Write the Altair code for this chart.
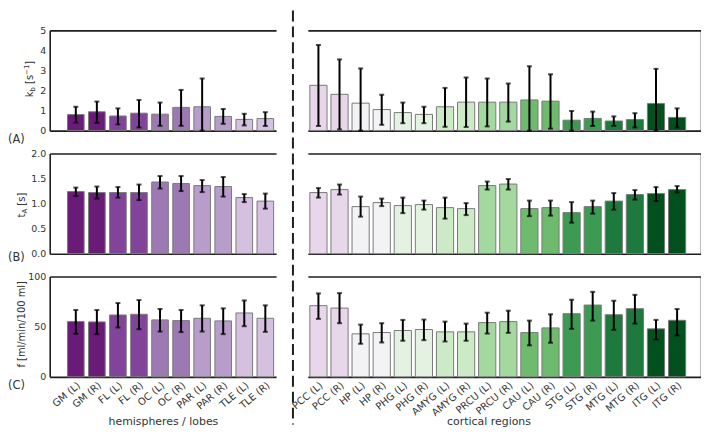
import altair as alt
import pandas as pd

# ---------------- data ----------------
left_regions = ["GM (L)", "GM (R)", "FL (L)", "FL (R)", "OC (L)", "OC (R)",
                "PAR (L)", "PAR (R)", "TLE (L)", "TLE (R)"]
right_regions = ["PCC (L)", "PCC (R)", "HP (L)", "HP (R)", "PHG (L)", "PHG (R)",
                 "AMYG (L)", "AMYG (R)", "PRCU (L)", "PRCU (R)", "CAU (L)", "CAU (R)",
                 "STG (L)", "STG (R)", "MTG (L)", "MTG (R)", "ITG (L)", "ITG (R)"]

left_colors = ["#6a1b78", "#6a1b78", "#81449a", "#81449a", "#9d79b4", "#9d79b4",
               "#b89cca", "#b89cca", "#d5c0e0", "#d5c0e0"]
right_colors = ["#e8d6ea", "#e8d6ea", "#f3f2f4", "#f3f2f4", "#e4f2e1", "#e4f2e1",
                "#cdeac6", "#cdeac6", "#a3d89e", "#a3d89e", "#6fbb6e", "#6fbb6e",
                "#3d9a52", "#3d9a52", "#1d7a3c", "#1d7a3c", "#03501f", "#03501f"]

# (A) k_b [s^-1]
kb_left = [0.80, 0.94, 0.73, 0.87, 0.82, 1.16, 1.19, 0.71, 0.56, 0.60]
kb_left_lo = [0.40, 0.39, 0.31, 0.16, 0.24, 0.24, 0.00, 0.34, 0.26, 0.23]
kb_left_hi = [1.19, 1.45, 1.11, 1.53, 1.40, 2.03, 2.60, 1.08, 0.84, 0.92]
kb_right = [2.26, 1.81, 1.37, 1.05, 0.90, 0.81, 1.19, 1.42, 1.42, 1.42, 1.53, 1.47,
            0.52, 0.61, 0.48, 0.55, 1.35, 0.66]
kb_right_lo = [0.23, 0.06, 0.00, 0.29, 0.37, 0.37, 0.19, 0.18, 0.21, 0.45, 0.00, 0.10,
               0.00, 0.23, 0.24, 0.16, 0.00, 0.16]
kb_right_hi = [4.27, 3.55, 3.10, 1.79, 1.40, 1.19, 2.13, 2.65, 2.60, 2.35, 3.21, 2.81,
               0.98, 0.95, 0.71, 0.87, 3.08, 1.11]

# (B) t_A [s]
ta_left = [1.24, 1.22, 1.22, 1.22, 1.43, 1.40, 1.36, 1.34, 1.12, 1.05]
ta_left_lo = [1.15, 1.10, 1.12, 1.07, 1.30, 1.25, 1.23, 1.14, 1.03, 0.90]
ta_left_hi = [1.32, 1.34, 1.33, 1.38, 1.55, 1.55, 1.47, 1.53, 1.19, 1.20]
ta_right = [1.22, 1.28, 0.94, 1.02, 0.96, 0.98, 0.92, 0.90, 1.36, 1.39, 0.90, 0.92,
            0.82, 0.94, 1.05, 1.18, 1.20, 1.28]
ta_right_lo = [1.12, 1.18, 0.74, 0.95, 0.81, 0.88, 0.70, 0.77, 1.28, 1.28, 0.75, 0.76,
               0.62, 0.80, 0.88, 1.08, 1.05, 1.22]
ta_right_hi = [1.31, 1.38, 1.14, 1.10, 1.12, 1.06, 1.12, 1.01, 1.44, 1.49, 1.06, 1.06,
               1.03, 1.06, 1.21, 1.27, 1.33, 1.35]

# (C) f [ml/min/100 ml]
f_left = [55.1, 54.8, 61.7, 62.4, 56.8, 56.1, 58.4, 55.8, 63.7, 58.4]
f_left_lo = [42.9, 42.6, 49.2, 47.5, 45.2, 44.6, 45.2, 42.6, 50.5, 44.9]
f_left_hi = [66.7, 66.7, 73.6, 76.6, 67.7, 66.7, 71.3, 68.3, 76.2, 71.3]
f_right = [71.0, 68.6, 42.9, 44.2, 46.2, 47.2, 44.9, 44.9, 54.1, 55.1, 44.2, 48.8,
           63.0, 71.6, 62.0, 68.0, 47.9, 56.4]
f_right_lo = [57.8, 53.5, 33.0, 34.3, 36.0, 36.6, 35.3, 36.0, 43.2, 43.9, 31.4, 34.0,
              47.9, 56.1, 46.9, 53.1, 37.3, 41.3]
f_right_hi = [83.2, 83.5, 52.1, 53.5, 56.8, 57.1, 55.1, 53.1, 64.0, 66.0, 56.1, 62.4,
              76.9, 84.8, 75.9, 81.8, 56.8, 67.7]

left_xtitle = "hemispheres / lobes"
right_xtitle = "cortical regions"
panel_letters = ["(A)", "(B)", "(C)"]

# ---------------- style ----------------
FONT = "DejaVu Sans"
TXT = "#333333"
LINE = "#1e1e1e"
EDGE = "#7a7a7a"
LW = 1.6
LEFT_W, RIGHT_W, PANEL_H = 228, 396, 101

CHAR_W = {'k': 0.579, 'b': 0.635, ' ': 0.318, '[': 0.390, 's': 0.521, '\u2212': 0.838,
          '1': 0.636, ']': 0.390, 't': 0.392, 'A': 0.684, 'f': 0.352, 'm': 0.974,
          'l': 0.278, '/': 0.337, 'i': 0.278, 'n': 0.634, '0': 0.636}


def tw(s, size):
    return sum(CHAR_W.get(c, 0.6) for c in s) * size


def rotated_title(pieces, x_base, y_center):
    """Rotated (reading upward) title built from pieces with sub/superscripts."""
    total = sum(tw(t, fs) for t, fs, _ in pieces)
    y = y_center + total / 2
    layers = []
    for t, fs, shift in pieces:
        stripped = t.lstrip(" ")
        y -= tw(t[: len(t) - len(stripped)], fs)  # leading spaces advance manually
        layers.append(
            alt.Chart(pd.DataFrame({"t": [stripped]})).mark_text(
                angle=270, align="left", baseline="alphabetic", fontSize=fs,
                dy=shift, font=FONT, color=TXT
            ).encode(text="t:N", x=alt.value(x_base), y=alt.value(y))
        )
        y -= tw(stripped, fs)
    return layers


ylabels = [
    dict(pieces=[("k", 10, 0), ("b", 7, 2.5), (" [s", 10, 0), ("\u22121", 7, -4), ("]", 10, 0)],
         x=-17, y=49),
    dict(pieces=[("t", 10, 0), ("A", 7, 2.5), (" [s]", 10, 0)], x=-25, y=52),
    dict(pieces=[("f [ml/min/100 ml]", 10, 0)], x=-25, y=48),
]
letter_y = [110, 105, 110]
ydomains = [[0, 5], [0, 2], [0, 100]]
yticks = [[0, 1, 2, 3, 4, 5], [0, 0.5, 1.0, 1.5, 2.0], [0, 50, 100]]
yformats = ["d", ".1f", "d"]


def panel(row, side, regions, colors, vals, lo, hi):
    df = pd.DataFrame({"region": regions, "value": vals, "lo": lo, "hi": hi})
    if side == "left":
        width = LEFT_W
        xscale = alt.Scale(domain=regions, paddingInner=0.21, paddingOuter=0.48, align=0.88)
        yaxis = alt.Axis(orient="left", values=yticks[row], format=yformats[row],
                         ticks=False, labelPadding=4, labelFontSize=9.5, labelFont=FONT,
                         labelColor=TXT, title=None, domain=True, domainColor=LINE,
                         domainWidth=LW, grid=False)
        xtitle = left_xtitle
        title_x = 114
    else:
        width = RIGHT_W
        xscale = alt.Scale(domain=regions, paddingInner=0.185, paddingOuter=0.41, align=0.115)
        yaxis = alt.Axis(orient="right", labels=False, ticks=False, title=None,
                         domain=True, domainColor=LINE, domainWidth=LW, grid=False)
        xtitle = right_xtitle
        title_x = 182
    yscale = alt.Scale(domain=ydomains[row], nice=False, zero=True)

    if row == 2:
        bottom_axis = alt.Axis(orient="bottom", labels=True, labelAngle=-40, labelAlign="right",
                               labelBaseline="top", labelPadding=3, labelFontSize=10,
                               labelFont=FONT, labelColor=TXT, labelFontWeight="normal",
                               ticks=False, domain=True, domainColor=LINE, domainWidth=LW,
                               grid=False, title=xtitle, titleFont=FONT, titleFontSize=11,
                               titleFontWeight="normal", titleColor=TXT, titleX=title_x,
                               titleY=48, titleAlign="center", titleBaseline="alphabetic",
                               titleAngle=0)
    else:
        bottom_axis = alt.Axis(orient="bottom", labels=False, ticks=False, title=None,
                               domain=True, domainColor=LINE, domainWidth=LW, grid=False)
    top_axis = alt.Axis(orient="top", labels=False, ticks=False, title=None,
                        domain=True, domainColor=LINE, domainWidth=LW, grid=False)

    base = alt.Chart(df)
    bars = base.mark_bar(stroke=EDGE, strokeWidth=1, opacity=1).encode(
        x=alt.X("region:N", scale=xscale, axis=bottom_axis, sort=regions),
        y=alt.Y("value:Q", scale=yscale, axis=yaxis),
        color=alt.Color("region:N", scale=alt.Scale(domain=regions, range=colors), legend=None),
    )
    rules = base.mark_rule(color="black", strokeWidth=2).encode(
        x=alt.X("region:N", scale=xscale, axis=top_axis, sort=regions),
        y=alt.Y("lo:Q", scale=yscale, axis=yaxis),
        y2="hi:Q",
    )
    cap_lo = base.mark_tick(color="black", thickness=2, size=5).encode(
        x=alt.X("region:N", scale=xscale, axis=None, sort=regions),
        y=alt.Y("lo:Q", scale=yscale, axis=yaxis),
    )
    cap_hi = base.mark_tick(color="black", thickness=2, size=5).encode(
        x=alt.X("region:N", scale=xscale, axis=None, sort=regions),
        y=alt.Y("hi:Q", scale=yscale, axis=yaxis),
    )
    layers = [bars, rules, cap_lo, cap_hi]

    if side == "left":
        lab = ylabels[row]
        layers += rotated_title(lab["pieces"], lab["x"], lab["y"])
        layers.append(
            alt.Chart(pd.DataFrame({"t": [panel_letters[row]]})).mark_text(
                align="left", baseline="middle", fontSize=11.5, font=FONT, color=TXT
            ).encode(text="t:N", x=alt.value(-42), y=alt.value(letter_y[row]))
        )
        if row == 0:
            layers.append(
                alt.Chart(pd.DataFrame({"t": [0]})).mark_rule(
                    color=LINE, strokeWidth=2, strokeDash=[11, 5]
                ).encode(x=alt.value(245), y=alt.value(-20), y2=alt.value(397))
            )

    return alt.layer(*layers).properties(width=width, height=PANEL_H)


rows = [
    (kb_left, kb_left_lo, kb_left_hi, kb_right, kb_right_lo, kb_right_hi),
    (ta_left, ta_left_lo, ta_left_hi, ta_right, ta_right_lo, ta_right_hi),
    (f_left, f_left_lo, f_left_hi, f_right, f_right_lo, f_right_hi),
]

panels = []
for r, (lv, ll, lh, rv, rl, rh) in enumerate(rows):
    panels.append(panel(r, "left", left_regions, left_colors, lv, ll, lh))
    panels.append(panel(r, "right", right_regions, right_colors, rv, rl, rh))

chart = alt.concat(
    *panels, columns=2, spacing={"row": 23, "column": 32}, bounds="flush", align="each"
).resolve_scale(
    x="independent", y="independent", color="independent"
).properties(
    padding=0
).configure_view(stroke=None)

chart.save("out.html", embed_options={"renderer": "svg", "actions": False})
